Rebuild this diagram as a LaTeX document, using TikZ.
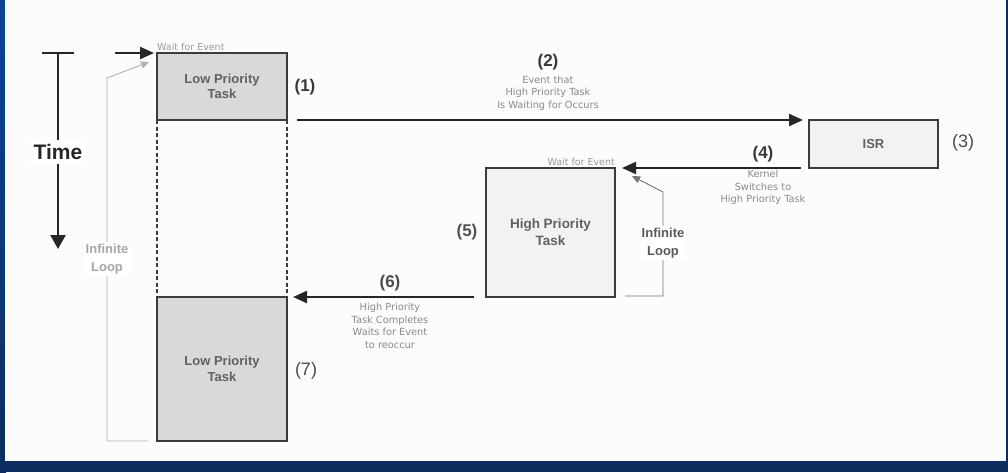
\documentclass[tikz,border=0pt]{standalone}
\usepackage{fontspec}
\setmainfont{Liberation Sans}
\newfontfamily\smallfam{DejaVu Sans}
\usetikzlibrary{arrows.meta}
\definecolor{boxline}{HTML}{3C3C3C}
\definecolor{lowfill}{HTML}{D9D9D9}
\definecolor{highfill}{HTML}{F2F2F2}
\definecolor{bandblue}{HTML}{0B4596}
\definecolor{banddark}{HTML}{0C2D5E}
\definecolor{labgray}{HTML}{8A8A8A}
\begin{document}
\begin{tikzpicture}[x=1pt,y=-1pt,
  taskbox/.style={draw=boxline,line width=2.4pt,inner sep=0pt,outer sep=0pt,align=center,
    font=\fontsize{13}{15.5}\selectfont\bfseries,text=black!62},
  numlab/.style={font=\fontsize{17}{19}\selectfont\bfseries,text=black!78},
  numlabr/.style={font=\fontsize{18}{20}\selectfont,text=black!70},
  smalllab/.style={font=\smallfam\fontsize{9.8}{12.6}\selectfont,text=labgray,align=center},
  tinylab/.style={font=\smallfam\fontsize{9.5}{10}\selectfont,text=black!40},
  arr/.style={draw=black!85,line width=2.2pt,-{Triangle[length=14pt,width=12pt]}},
  looparr/.style={line width=0.9pt,-{Triangle[length=8pt,width=7pt]}},
  looplab/.style={fill=white,inner sep=2pt,align=center,
    font=\fontsize{13}{18}\selectfont\bfseries}]
\useasboundingbox (0,0) rectangle (1008,472);
% background and frame
\fill[banddark] (0,0) rectangle (1008,472);
\shade[top color=bandblue,bottom color=banddark] (0,0) rectangle (6,472);
\fill[white!99!black] (4.5,0) rectangle (1006,461);

% Time axis
\node[font=\fontsize{21}{23}\selectfont\bfseries,text=black!85,fill=white,
  inner xsep=3pt,inner ysep=4pt] (time) at (58,152) {Time};
\coordinate (ttop) at (58,53);
\coordinate (tend) at (58,249);
\draw[black!85,line width=2.4pt] (42,53) -- (74,53);
\draw[black!85,line width=2.4pt] (ttop) -- (time.north);
\draw[black!85,line width=2.4pt,-{Triangle[length=14pt,width=15pt]}] (time.south) -- (tend);

% tasks
\node[taskbox,fill=lowfill,minimum width=130pt,minimum height=67pt] (lp1) at (222,86.5) {Low Priority\\Task};
\node[taskbox,fill=lowfill,minimum width=130pt,minimum height=144pt] (lp2) at (222,369) {Low Priority\\Task};
\node[taskbox,fill=highfill,minimum width=129pt,minimum height=48pt] (isr) at (873.5,144) {ISR};
\node[taskbox,fill=highfill,minimum width=129pt,minimum height=129pt,
  font=\fontsize{13.5}{17}\selectfont\bfseries] (hp) at (550.5,232.5) {High Priority\\Task};

% dashed continuation
\draw[boxline,line width=2.4pt,dash pattern=on 4pt off 2.5pt] (lp1.south west) -- (lp2.north west);
\draw[boxline,line width=2.4pt,dash pattern=on 4pt off 2.5pt] (lp1.south east) -- (lp2.north east);

% wait for event (top left)
\coordinate (wstart) at (115,53);
\draw[arr] (wstart) -- ([xshift=-3pt]lp1.north west);
\node[tinylab,anchor=south west,inner sep=0pt] (w1) at ([yshift=2.5pt]lp1.north west) {Wait for Event};

% left infinite loop
\coordinate (l1) at (148,441);
\coordinate (l2) at (107,441);
\coordinate (l3) at (107,78);
\coordinate (l4) at (149,62);
\draw[black!30,looparr] (l1) -- (l2) -- (l3) -- (l4);
\node[looplab,text=black!35] (loopl) at (107,259) {Infinite\\Loop};

% (2) event arrow
\draw[arr] ([xshift=10pt]lp1.south east) -- ([xshift=-6pt]isr.north west);
\node[numlab] (n2) at (548,62) {(2)};
\node[smalllab] (t2) at (548,93) {Event that\\High Priority Task\\Is Waiting for Occurs};

% (4) kernel switches
\draw[arr] ([xshift=-8pt]isr.south west) -- ([xshift=7pt]hp.north east);
\node[numlab] (n4) at (763,154) {(4)};
\node[smalllab] (t4) at (763,187.5) {Kernel\\Switches to\\High Priority Task};
\node[tinylab,anchor=south east,inner sep=0pt] (w2) at ([yshift=2.5pt]hp.north east) {Wait for Event};

% right infinite loop
\coordinate (r1) at (625,296);
\coordinate (r2) at (663,296);
\coordinate (r3) at (663,192);
\coordinate (r4) at (632,176);
\draw[black!55,looparr] (r1) -- (r2) -- (r3) -- (r4);
\node[looplab,text=black!65] (loopr) at (663,243) {Infinite\\Loop};

% (6) HP completes
\draw[arr] ([xshift=-12pt]hp.south west) -- ([xshift=6pt]lp2.north east);
\node[numlab,text=black!70] (n6) at (390,283) {(6)};
\node[smalllab] (t6) at (390,326) {High Priority\\Task Completes\\Waits for Event\\to reoccur};

% numbers
\node[numlab] (n1) at (305,87) {(1)};
\node[numlabr] (n3) at (963,143) {(3)};
\node[numlab,text=black!68] (n5) at (467,232) {(5)};
\node[numlabr] (n7) at (306,371) {(7)};
\end{tikzpicture}
\end{document}
